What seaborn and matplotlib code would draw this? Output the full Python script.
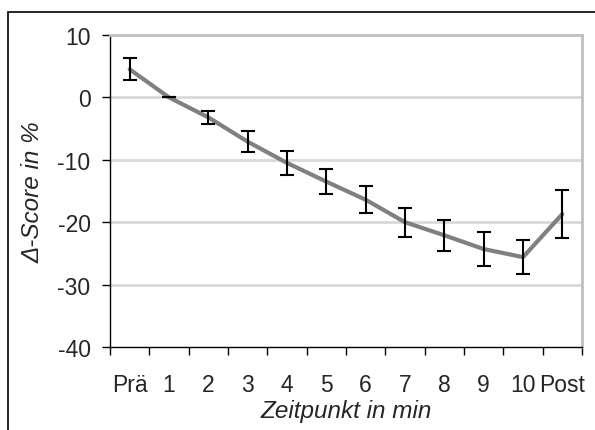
import numpy as np
import pandas as pd
import matplotlib
matplotlib.use("Agg")
import matplotlib.pyplot as plt
from matplotlib.patches import Rectangle
import seaborn as sns

# data
zeitpunkte = ["Prä", "1", "2", "3", "4", "5", "6", "7", "8", "9", "10", "Post"]
delta_score = [4.5, 0.0, -3.2, -7.1, -10.5, -13.5, -16.4, -20.0, -22.1, -24.3, -25.6, -18.7]
fehler = [1.75, 0.0, 1.1, 1.7, 1.9, 2.05, 2.2, 2.35, 2.5, 2.7, 2.75, 3.85]

sns.set_style("white")
plt.rcParams["font.family"] = ["Liberation Sans", "DejaVu Sans"]
plt.rcParams["axes.unicode_minus"] = False

df = pd.DataFrame({"pos": np.arange(len(zeitpunkte)), "score": delta_score,
                   "err": fehler})

fig = plt.figure(figsize=(5.95, 4.31), dpi=100)
ax = fig.add_axes([110 / 595, 1 - 348 / 431, 472 / 595, 312 / 431])

# frame around the figure (cut off at right and bottom)
fig.patches.append(Rectangle((8 / 595, -0.1), 1.2, 1 - 13 / 431 + 0.1,
                             transform=fig.transFigure, fill=False,
                             edgecolor="black", linewidth=1.2))

for y in [-30, -20, -10, 0, 10]:
    ax.axhline(y, color="#d9d9d9", linewidth=2, zorder=0)

sns.lineplot(data=df, x="pos", y="score", color="#808080", linewidth=3,
             ax=ax, zorder=2)
ax.errorbar(df["pos"], df["score"], yerr=df["err"], fmt="none",
            ecolor="black", elinewidth=1.5, capsize=5, capthick=1.5,
            zorder=3)

ax.set_xlim(-0.5, len(zeitpunkte) - 0.5)
ax.set_ylim(-40, 10)
ax.set_yticks(range(-40, 11, 10))
ax.set_xticks(np.arange(len(zeitpunkte)))
ax.set_xticklabels(zeitpunkte)
ax.set_xticks(np.arange(len(zeitpunkte) + 1) - 0.5, minor=True)
ax.tick_params(axis="x", which="major", length=0, labelsize=16.5, pad=19)
ax.tick_params(axis="x", which="minor", length=6, width=1, direction="out",
               bottom=True, color="black")
ax.tick_params(axis="y", length=6, width=1, direction="out", left=True,
               labelsize=16.5, pad=8, color="black")

for side in ["left", "bottom"]:
    ax.spines[side].set_color("black")
    ax.spines[side].set_linewidth(1)
for side in ["top", "right"]:
    ax.spines[side].set_color("#c0c0c0")
    ax.spines[side].set_linewidth(2)

ax.set_xlabel("Zeitpunkt in min", fontsize=17.5, style="italic", labelpad=2)
ax.set_ylabel("Δ-Score in %", fontsize=17.5, style="italic", labelpad=9)

fig.savefig("out.png", dpi=100)
